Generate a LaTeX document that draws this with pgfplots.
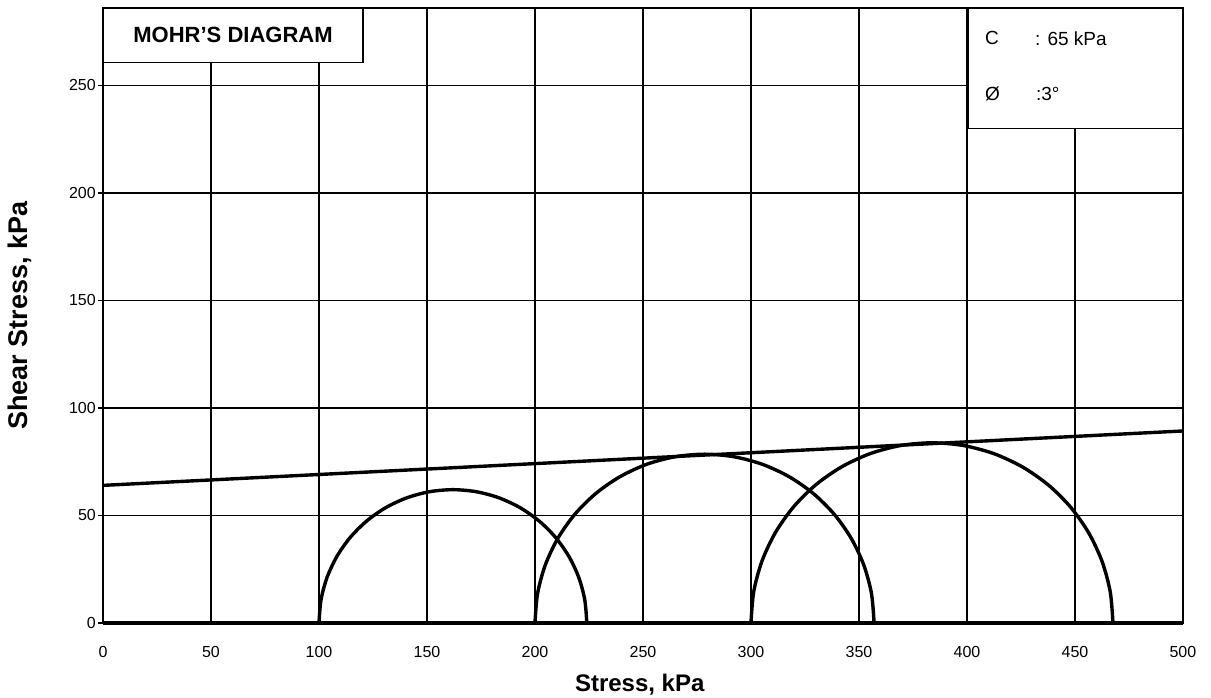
\documentclass[border=0pt]{standalone}
\usepackage{pgfplots}
\pgfplotsset{compat=1.18}
\usepackage{fontspec}
\setmainfont{Liberation Sans}
\begin{document}
\begin{tikzpicture}
\useasboundingbox (-103pt,-75pt) rectangle (1108pt,623pt);
\begin{axis}[
  at={(0pt,0pt)}, anchor=south west,
  scale only axis, width=1080pt, height=615pt,
  xmin=0, xmax=500, ymin=0, ymax=286,
  xtick={0,50,...,500}, ytick={0,50,...,250},
  ytick pos=left, xtick pos=bottom,
  grid=major,
  major grid style={black, line width=1.3pt},
  axis line style={black, line width=1.8pt},
  tick align=outside,
  major tick length=5pt,
  xtick style={draw=none},
  ytick style={black, line width=1.3pt},
  /pgf/number format/assume math mode=true,
  ticklabel style={font=\fontsize{16}{18}\selectfont},
  yticklabel style={inner sep=2pt},
  xticklabel style={yshift=-15pt},
  xlabel={Stress, kPa},
  ylabel={Shear Stress, kPa},
  xlabel style={font=\fontsize{24}{26}\selectfont\bfseries, at={(rel axis cs:0.497,0)}, anchor=center, yshift=-62pt},
  ylabel style={font=\fontsize{27}{29}\selectfont\bfseries, at={(axis description cs:-0.0769,0.5)}, anchor=center},
  clip=false,
]
% Mohr circle 1
\addplot[black, line width=3.4pt, smooth] coordinates {
(224,0) (223.06,10.77) (220.26,21.21) (215.69,31.0) (209.49,39.85) (201.85,47.49) (193.0,53.69) (183.21,58.26) (172.77,61.06) (162,62)
(151.23,61.06) (140.79,58.26) (131.0,53.69) (122.15,47.49) (114.51,39.85) (108.31,31.0) (103.74,21.21) (100.94,10.77) (100,0)};
% Mohr circle 2
\addplot[black, line width=3.4pt, smooth] coordinates {
(357,0) (355.81,13.63) (352.27,26.85) (346.48,39.25) (338.63,50.46) (328.96,60.13) (317.75,67.98) (305.35,73.77) (292.13,77.31) (278.5,78.5)
(264.87,77.31) (251.65,73.77) (239.25,67.98) (228.04,60.13) (218.37,50.46) (210.52,39.25) (204.73,26.85) (201.19,13.63) (200,0)};
% Mohr circle 3
\addplot[black, line width=3.4pt, smooth] coordinates {
(467.6,0) (466.33,14.55) (462.55,28.66) (456.37,41.9) (447.99,53.87) (437.67,64.19) (425.7,72.57) (412.46,78.75) (398.35,82.53) (383.8,83.8)
(369.25,82.53) (355.14,78.75) (341.9,72.57) (329.93,64.19) (319.61,53.87) (311.23,41.9) (305.05,28.66) (301.27,14.55) (300,0)};
% failure envelope
\addplot[black, line width=3.4pt] coordinates {(0,64) (500,89.3)};
% base line
\addplot[black, line width=3.8pt] coordinates {(0,0) (500,0)};
% title box
\draw[black, line width=1.6pt, fill=white] (axis cs:0,260.7) rectangle (axis cs:120.4,286);
\node[font=\fontsize{22}{24}\selectfont\bfseries] at (axis cs:60.2,273.4) {MOHR'S DIAGRAM};
% parameter box
\draw[black, line width=1.6pt, fill=white] (axis cs:400.5,230) rectangle (axis cs:500,286);
\node[anchor=west, inner sep=0pt, font=\fontsize{19}{21}\selectfont] at (axis cs:408.3,271.9) {C};
\node[anchor=west, inner sep=0pt, font=\fontsize{19}{21}\selectfont] at (axis cs:431.5,271.9) {: 65 kPa};
\node[anchor=west, inner sep=0pt, font=\fontsize{19}{21}\selectfont] at (axis cs:408.3,245.8) {Ø};
\node[anchor=west, inner sep=0pt, font=\fontsize{19}{21}\selectfont] at (axis cs:431.9,245.8) {:3°};
\end{axis}
\end{tikzpicture}
\end{document}
